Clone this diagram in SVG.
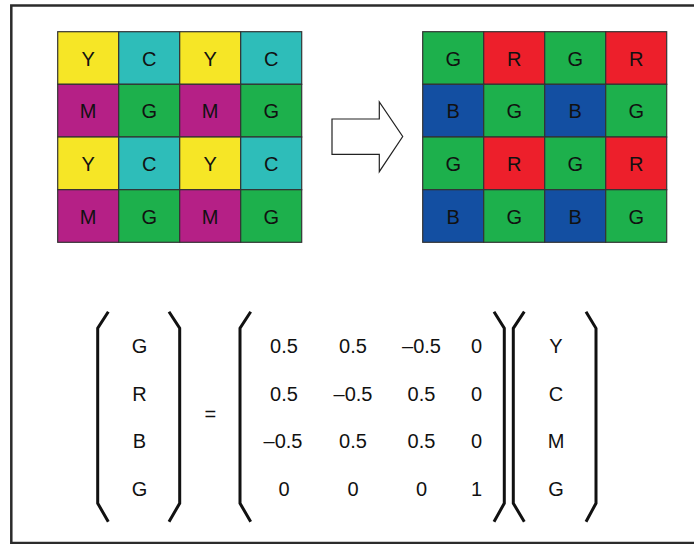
<svg xmlns="http://www.w3.org/2000/svg" width="694" height="544" viewBox="0 0 694 544">
<style>
.t{font-family:"Liberation Sans",Arial,sans-serif;font-size:20px;fill:#111;text-anchor:middle}
.c{stroke:#333;stroke-width:1.2}
.Y{fill:#F6E626}.C{fill:#2EBDB9}.M{fill:#B52086}.G{fill:#1DB04C}.R{fill:#ED1F2B}.B{fill:#134FA2}
.br{fill:none;stroke:#111;stroke-width:3}
</style>
<rect x="0" y="0" width="694" height="544" fill="#fff"/>
<rect x="11.3" y="5.5" width="700" height="537.5" fill="none" stroke="#2b2b2b" stroke-width="2.5"/>
<g id="cmyg-grid">
<rect class="c Y" x="57.7" y="31.7" width="61" height="52.6"/><rect class="c C" x="118.7" y="31.7" width="61" height="52.6"/><rect class="c Y" x="179.7" y="31.7" width="61" height="52.6"/><rect class="c C" x="240.7" y="31.7" width="61" height="52.6"/>
<rect class="c M" x="57.7" y="84.3" width="61" height="52.7"/><rect class="c G" x="118.7" y="84.3" width="61" height="52.7"/><rect class="c M" x="179.7" y="84.3" width="61" height="52.7"/><rect class="c G" x="240.7" y="84.3" width="61" height="52.7"/>
<rect class="c Y" x="57.7" y="137" width="61" height="52.7"/><rect class="c C" x="118.7" y="137" width="61" height="52.7"/><rect class="c Y" x="179.7" y="137" width="61" height="52.7"/><rect class="c C" x="240.7" y="137" width="61" height="52.7"/>
<rect class="c M" x="57.7" y="189.7" width="61" height="52.6"/><rect class="c G" x="118.7" y="189.7" width="61" height="52.6"/><rect class="c M" x="179.7" y="189.7" width="61" height="52.6"/><rect class="c G" x="240.7" y="189.7" width="61" height="52.6"/>
<text class="t" x="88.2" y="65.5">Y</text><text class="t" x="149.2" y="65.5">C</text><text class="t" x="210.2" y="65.5">Y</text><text class="t" x="271.2" y="65.5">C</text>
<text class="t" x="88.2" y="118.2">M</text><text class="t" x="149.2" y="118.2">G</text><text class="t" x="210.2" y="118.2">M</text><text class="t" x="271.2" y="118.2">G</text>
<text class="t" x="88.2" y="170.8">Y</text><text class="t" x="149.2" y="170.8">C</text><text class="t" x="210.2" y="170.8">Y</text><text class="t" x="271.2" y="170.8">C</text>
<text class="t" x="88.2" y="223.5">M</text><text class="t" x="149.2" y="223.5">G</text><text class="t" x="210.2" y="223.5">M</text><text class="t" x="271.2" y="223.5">G</text>
</g>
<g id="arrow">
<polygon points="332,119 379.3,119 379.3,102 402.7,136.5 379.3,171.7 379.3,154.3 332,154.3" fill="#fff" stroke="#222" stroke-width="1.2"/>
</g>
<g id="rgb-grid">
<rect class="c G" x="422.7" y="31.7" width="61" height="52.6"/><rect class="c R" x="483.7" y="31.7" width="61" height="52.6"/><rect class="c G" x="544.7" y="31.7" width="61" height="52.6"/><rect class="c R" x="605.7" y="31.7" width="61" height="52.6"/>
<rect class="c B" x="422.7" y="84.3" width="61" height="52.7"/><rect class="c G" x="483.7" y="84.3" width="61" height="52.7"/><rect class="c B" x="544.7" y="84.3" width="61" height="52.7"/><rect class="c G" x="605.7" y="84.3" width="61" height="52.7"/>
<rect class="c G" x="422.7" y="137" width="61" height="52.7"/><rect class="c R" x="483.7" y="137" width="61" height="52.7"/><rect class="c G" x="544.7" y="137" width="61" height="52.7"/><rect class="c R" x="605.7" y="137" width="61" height="52.7"/>
<rect class="c B" x="422.7" y="189.7" width="61" height="52.6"/><rect class="c G" x="483.7" y="189.7" width="61" height="52.6"/><rect class="c B" x="544.7" y="189.7" width="61" height="52.6"/><rect class="c G" x="605.7" y="189.7" width="61" height="52.6"/>
<text class="t" x="453.2" y="65.5">G</text><text class="t" x="514.2" y="65.5">R</text><text class="t" x="575.2" y="65.5">G</text><text class="t" x="636.2" y="65.5">R</text>
<text class="t" x="453.2" y="118.2">B</text><text class="t" x="514.2" y="118.2">G</text><text class="t" x="575.2" y="118.2">B</text><text class="t" x="636.2" y="118.2">G</text>
<text class="t" x="453.2" y="170.8">G</text><text class="t" x="514.2" y="170.8">R</text><text class="t" x="575.2" y="170.8">G</text><text class="t" x="636.2" y="170.8">R</text>
<text class="t" x="453.2" y="223.5">B</text><text class="t" x="514.2" y="223.5">G</text><text class="t" x="575.2" y="223.5">B</text><text class="t" x="636.2" y="223.5">G</text>
</g>
<g id="equation">
<path class="br" d="M108.3,311.7 L97.7,328.3 L97.7,503.3 L108.3,521.7"/>
<path class="br" d="M169,311.7 L179.7,328.3 L179.7,503.3 L169,521.7"/>
<text class="t" x="139.5" y="353">G</text><text class="t" x="139.5" y="400.5">R</text><text class="t" x="139.5" y="448">B</text><text class="t" x="139.5" y="496">G</text>
<text class="t" x="210.3" y="421">=</text>
<path class="br" d="M250.7,311.7 L240,328.3 L240,503.3 L250.7,521.7"/>
<path class="br" d="M494,311.7 L504.3,328.3 L504.3,503.3 L494,521.7"/>
<text class="t" x="284" y="353">0.5</text><text class="t" x="353" y="353">0.5</text><text class="t" x="421.5" y="353">–0.5</text><text class="t" x="476.5" y="353">0</text>
<text class="t" x="284" y="400.5">0.5</text><text class="t" x="353" y="400.5">–0.5</text><text class="t" x="421.5" y="400.5">0.5</text><text class="t" x="476.5" y="400.5">0</text>
<text class="t" x="283" y="448">–0.5</text><text class="t" x="353" y="448">0.5</text><text class="t" x="421.5" y="448">0.5</text><text class="t" x="476.5" y="448">0</text>
<text class="t" x="284" y="496">0</text><text class="t" x="353" y="496">0</text><text class="t" x="421.5" y="496">0</text><text class="t" x="476.5" y="496">1</text>
<path class="br" d="M524.3,311.7 L513.3,328.3 L513.3,503.3 L524.3,521.7"/>
<path class="br" d="M586,311.7 L596,328.3 L596,503.3 L586,521.7"/>
<text class="t" x="556" y="353">Y</text><text class="t" x="556" y="400.5">C</text><text class="t" x="556" y="448">M</text><text class="t" x="556" y="496">G</text>
</g>
</svg>
